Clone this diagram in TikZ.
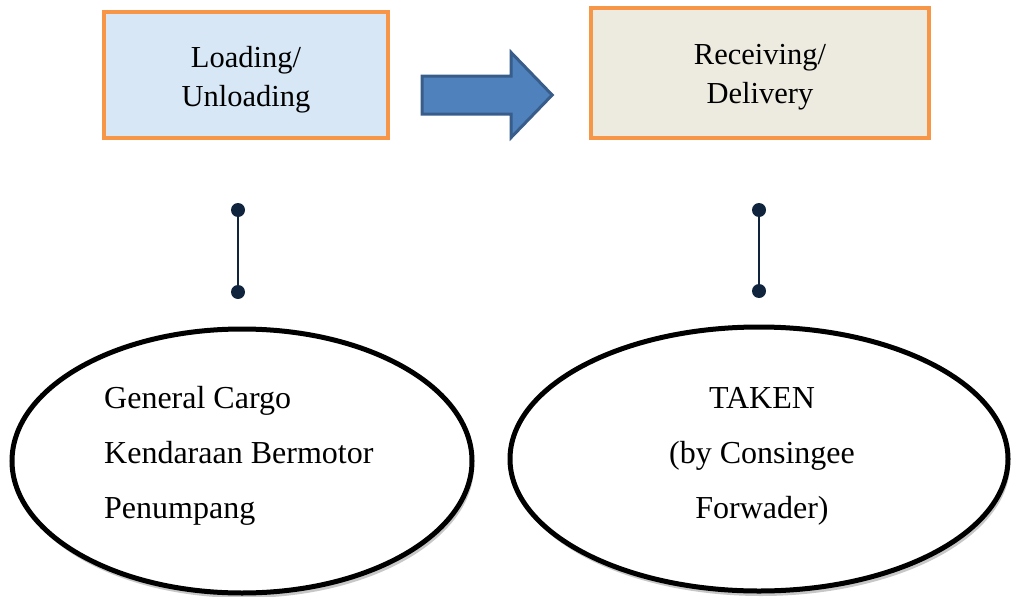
\documentclass[tikz,border=0pt]{standalone}
\usepackage{fontspec}
\setmainfont{Liberation Serif}
\usetikzlibrary{shapes.geometric,shapes.arrows}
\definecolor{boxorange}{HTML}{F79646}
\definecolor{boxblue}{HTML}{D8E7F6}
\definecolor{boxtan}{HTML}{EDEBE0}
\definecolor{arrowfill}{HTML}{4F81BD}
\definecolor{arrowline}{HTML}{385D8A}
\definecolor{navy}{HTML}{10243E}
\tikzset{
  topbox/.style={draw=boxorange, line width=4pt, inner sep=0pt},
  boxtext/.style={align=center, inner sep=0pt, font=\fontsize{30.5}{39}\selectfont},
  dotnode/.style={circle, fill=navy, inner sep=0pt, minimum size=14pt},
  conn/.style={draw=navy, line width=2.5pt},
  ovalnode/.style={ellipse, draw=black, line width=5pt, fill=white, inner sep=0pt},
  ovalshadow/.style={ellipse, fill=black!22, inner sep=0pt},
  ovaltext/.style={font=\fontsize{32}{39}\selectfont, inner sep=0pt},
}
\begin{document}
\begin{tikzpicture}[x=1pt,y=-1pt]
\useasboundingbox (0,0) rectangle (1012,597);
% top boxes
\node[topbox, fill=boxblue, minimum width=284pt, minimum height=126pt] (load) at (246,75) {};
\node[boxtext] (loadtxt) at (246,80) {Loading/\\Unloading};
\node[topbox, fill=boxtan, minimum width=338pt, minimum height=130pt] (recv) at (760,73) {};
\node[boxtext] (recvtxt) at (760,77) {Receiving/\\Delivery};
% block arrow
\node[single arrow, draw=arrowline, line width=3pt, fill=arrowfill,
  minimum height=130pt, minimum width=82pt, single arrow head extend=23.5pt,
  single arrow tip angle=92, inner xsep=0pt, inner ysep=17.5pt,
  text height=0pt, text depth=0pt] (arr) at (478,95) {};
% connectors
\node[dotnode] (d1a) at (238,210) {};
\node[dotnode] (d1b) at (238,292) {};
\node[dotnode] (d2a) at (759,210) {};
\node[dotnode] (d2b) at (759,291) {};
\draw[conn] (d1a) -- (d1b);
\draw[conn] (d2a) -- (d2b);
% ellipses
\node[ovalshadow, minimum width=460pt, minimum height=264pt] at (244,466) {};
\node[ovalshadow, minimum width=498pt, minimum height=264pt] at (761,464) {};
\node[ovalnode, minimum width=460pt, minimum height=264pt] (ov1) at (242,461) {};
\node[ovalnode, minimum width=498pt, minimum height=264pt] (ov2) at (759,459) {};
% ellipse texts
\node[ovaltext, anchor=base west] (t1) at (104,408) {General Cargo};
\node[ovaltext, anchor=base west] (t2) at (104,463) {Kendaraan Bermotor};
\node[ovaltext, anchor=base west] (t3) at (104,518) {Penumpang};
\node[ovaltext, anchor=base] (u1) at (762,408) {TAKEN};
\node[ovaltext, anchor=base] (u2) at (762,463) {(by Consingee};
\node[ovaltext, anchor=base] (u3) at (762,518) {Forwader)};
\end{tikzpicture}
\end{document}
